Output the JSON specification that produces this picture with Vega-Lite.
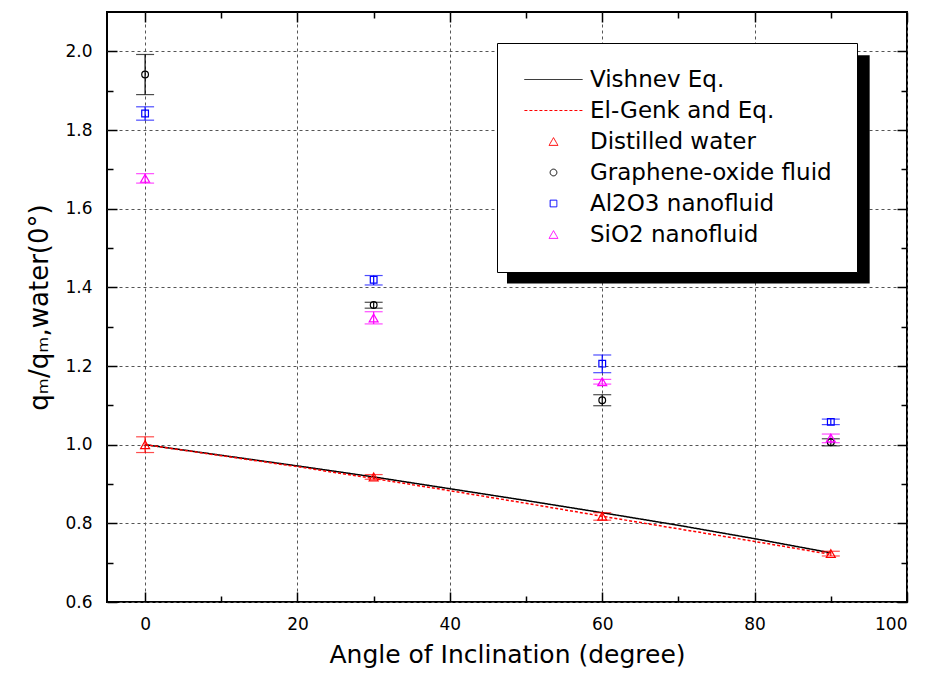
{
  "$schema": "https://vega.github.io/schema/vega-lite/v6.json",
  "width": 800,
  "height": 590,
  "autosize": "none",
  "padding": {"left": 107, "top": 12, "right": 27, "bottom": 80},
  "background": "white",
  "config": {
    "view": {"stroke": "black", "strokeWidth": 2},
    "font": "DejaVu Sans",
    "axis": {
      "labelFont": "DejaVu Sans",
      "titleFont": "DejaVu Sans",
      "labelColor": "black",
      "titleColor": "black",
      "labelFontSize": 17,
      "titleFontWeight": "normal",
      "domain": false,
      "tickColor": "black",
      "tickWidth": 1.5,
      "gridColor": "#555555",
      "gridDash": [3, 3],
      "gridWidth": 1
    },
    "legend": {
      "orient": "none",
      "legendX": 390,
      "legendY": 31,
      "fillColor": "white",
      "strokeColor": "black",
      "padding": 25,
      "labelFont": "DejaVu Sans",
      "labelFontSize": 23,
      "labelColor": "black",
      "labelLimit": 400,
      "labelOffset": 25,
      "symbolOffset": 20,
      "rowPadding": 7,
      "symbolStrokeWidth": 1,
      "symbolOpacity": 1,
      "symbolFillColor": "transparent",
      "title": null
    }
  },
  "datasets": {
    "pts": [
      {"series": "Distilled water", "angle": 0, "value": 1.0, "lo": 0.98, "hi": 1.02},
      {"series": "Distilled water", "angle": 30, "value": 0.918, "lo": 0.912, "hi": 0.924},
      {"series": "Distilled water", "angle": 60, "value": 0.818, "lo": 0.808, "hi": 0.827},
      {"series": "Distilled water", "angle": 90, "value": 0.723, "lo": 0.717, "hi": 0.729},
      {"series": "Graphene-oxide fluid", "angle": 0, "value": 1.941, "lo": 1.89, "hi": 1.992},
      {"series": "Graphene-oxide fluid", "angle": 30, "value": 1.355, "lo": 1.347, "hi": 1.362},
      {"series": "Graphene-oxide fluid", "angle": 60, "value": 1.113, "lo": 1.099, "hi": 1.127},
      {"series": "Graphene-oxide fluid", "angle": 90, "value": 1.006, "lo": 0.997, "hi": 1.015},
      {"series": "Al2O3 nanofluid", "angle": 0, "value": 1.842, "lo": 1.825, "hi": 1.859},
      {"series": "Al2O3 nanofluid", "angle": 30, "value": 1.419, "lo": 1.406, "hi": 1.43},
      {"series": "Al2O3 nanofluid", "angle": 60, "value": 1.206, "lo": 1.183, "hi": 1.228},
      {"series": "Al2O3 nanofluid", "angle": 90, "value": 1.058, "lo": 1.051, "hi": 1.065},
      {"series": "SiO2 nanofluid", "angle": 0, "value": 1.677, "lo": 1.665, "hi": 1.689},
      {"series": "SiO2 nanofluid", "angle": 30, "value": 1.322, "lo": 1.307, "hi": 1.338},
      {"series": "SiO2 nanofluid", "angle": 60, "value": 1.16, "lo": 1.154, "hi": 1.166},
      {"series": "SiO2 nanofluid", "angle": 90, "value": 1.017, "lo": 1.005, "hi": 1.027}
    ],
    "lines": [
      {"series": "Vishnev Eq.", "angle": 0, "value": 1.0},
      {"series": "Vishnev Eq.", "angle": 10, "value": 0.973},
      {"series": "Vishnev Eq.", "angle": 20, "value": 0.946},
      {"series": "Vishnev Eq.", "angle": 30, "value": 0.918},
      {"series": "Vishnev Eq.", "angle": 40, "value": 0.888},
      {"series": "Vishnev Eq.", "angle": 50, "value": 0.858},
      {"series": "Vishnev Eq.", "angle": 60, "value": 0.827},
      {"series": "Vishnev Eq.", "angle": 70, "value": 0.795},
      {"series": "Vishnev Eq.", "angle": 80, "value": 0.761},
      {"series": "Vishnev Eq.", "angle": 90, "value": 0.725},
      {"series": "El-Genk and Eq.", "angle": 0, "value": 1.0},
      {"series": "El-Genk and Eq.", "angle": 10, "value": 0.972},
      {"series": "El-Genk and Eq.", "angle": 20, "value": 0.944},
      {"series": "El-Genk and Eq.", "angle": 30, "value": 0.914},
      {"series": "El-Genk and Eq.", "angle": 40, "value": 0.883},
      {"series": "El-Genk and Eq.", "angle": 50, "value": 0.851},
      {"series": "El-Genk and Eq.", "angle": 60, "value": 0.818},
      {"series": "El-Genk and Eq.", "angle": 70, "value": 0.786},
      {"series": "El-Genk and Eq.", "angle": 80, "value": 0.754},
      {"series": "El-Genk and Eq.", "angle": 90, "value": 0.721}
    ]
  },
  "resolve": {"axis": {"x": "independent", "y": "independent"}},
  "layer": [
    {
      "data": {"values": [{}]},
      "mark": {"type": "rect", "color": "black"},
      "encoding": {
        "x": {"datum": 47.5, "type": "quantitative", "scale": {"domain": [-5, 100], "nice": false, "zero": false},
          "axis": {"orient": "bottom", "title": "Angle of Inclination (degree)", "titleFontSize": 25, "titlePadding": 10,
            "grid": true,
            "values": [0, 10, 20, 30, 40, 50, 60, 70, 80, 90, 100],
            "labelExpr": "datum.value % 20 == 0 ? datum.label : ''",
            "labelPadding": 24,
            "tickSize": {"condition": {"test": "datum.value % 20 == 0", "value": -10}, "value": -6},
            "gridOpacity": {"condition": {"test": "datum.value % 20 == 0", "value": 1}, "value": 0}}},
        "x2": {"datum": 95.1},
        "y": {"datum": 1.99, "type": "quantitative", "scale": {"domain": [0.6, 2.1], "nice": false, "zero": false},
          "axis": {"orient": "left", "title": "qₘ/qₘ,water(0°)", "titleFontSize": 26, "titlePadding": 12,
            "grid": true,
            "values": [0.6, 0.7, 0.8, 0.9, 1.0, 1.1, 1.2, 1.3, 1.4, 1.5, 1.6, 1.7, 1.8, 1.9, 2.0],
            "labelExpr": "round(datum.value*10) % 2 == 0 ? format(datum.value, '.1f') : ''",
            "labelPadding": 25,
            "tickSize": {"condition": {"test": "round(datum.value*10) % 2 == 0", "value": -10}, "value": -6},
            "gridOpacity": {"condition": {"test": "round(datum.value*10) % 2 == 0", "value": 1}, "value": 0}}},
        "y2": {"datum": 1.41}
      }
    },
    {
      "data": {"name": "lines"},
      "mark": {"type": "line", "strokeWidth": 1.5},
      "encoding": {
        "x": {"field": "angle", "type": "quantitative",
          "axis": {"orient": "top", "title": null, "labels": false, "grid": false,
            "values": [0, 10, 20, 30, 40, 50, 60, 70, 80, 90, 100],
            "tickSize": {"condition": {"test": "datum.value % 20 == 0", "value": -10}, "value": -6}}},
        "y": {"field": "value", "type": "quantitative",
          "axis": {"orient": "right", "title": null, "labels": false, "grid": false,
            "values": [0.6, 0.7, 0.8, 0.9, 1.0, 1.1, 1.2, 1.3, 1.4, 1.5, 1.6, 1.7, 1.8, 1.9, 2.0],
            "tickSize": {"condition": {"test": "round(datum.value*10) % 2 == 0", "value": -10}, "value": -6}}},
        "color": {"field": "series", "type": "nominal",
          "scale": {"domain": ["Vishnev Eq.", "El-Genk and Eq.", "Distilled water", "Graphene-oxide fluid", "Al2O3 nanofluid", "SiO2 nanofluid"],
            "range": ["#000000", "#ff0000", "#ff0000", "#000000", "#0000ff", "#ff00ff"]}},
        "strokeDash": {"field": "series", "type": "nominal",
          "scale": {"domain": ["Vishnev Eq.", "El-Genk and Eq.", "Distilled water", "Graphene-oxide fluid", "Al2O3 nanofluid", "SiO2 nanofluid"],
            "range": [[1, 0], [3, 2], [1, 0], [1, 0], [1, 0], [1, 0]]}}
      }
    },
    {
      "data": {"name": "pts"},
      "mark": {"type": "rule", "strokeWidth": 1.2},
      "encoding": {
        "x": {"field": "angle", "type": "quantitative", "axis": null},
        "y": {"field": "lo", "type": "quantitative", "axis": null},
        "y2": {"field": "hi"},
        "stroke": {"field": "series", "type": "nominal", "legend": null,
          "scale": {"domain": ["Distilled water", "Graphene-oxide fluid", "Al2O3 nanofluid", "SiO2 nanofluid"],
            "range": ["#ff0000", "#000000", "#0000ff", "#ff00ff"]}}
      }
    },
    {
      "data": {"name": "pts"},
      "mark": {"type": "tick", "orient": "horizontal", "size": 18, "thickness": 1.2},
      "encoding": {
        "x": {"field": "angle", "type": "quantitative", "axis": null},
        "y": {"field": "lo", "type": "quantitative", "axis": null},
        "fill": {"field": "series", "type": "nominal", "legend": null,
          "scale": {"domain": ["Distilled water", "Graphene-oxide fluid", "Al2O3 nanofluid", "SiO2 nanofluid"],
            "range": ["#ff0000", "#000000", "#0000ff", "#ff00ff"]}}
      }
    },
    {
      "data": {"name": "pts"},
      "mark": {"type": "tick", "orient": "horizontal", "size": 18, "thickness": 1.2},
      "encoding": {
        "x": {"field": "angle", "type": "quantitative", "axis": null},
        "y": {"field": "hi", "type": "quantitative", "axis": null},
        "fill": {"field": "series", "type": "nominal", "legend": null}
      }
    },
    {
      "data": {"name": "pts"},
      "mark": {"type": "point", "filled": false, "strokeWidth": 1.2, "opacity": 1},
      "encoding": {
        "x": {"field": "angle", "type": "quantitative", "axis": null},
        "y": {"field": "value", "type": "quantitative", "axis": null},
        "color": {"field": "series", "type": "nominal",
          "legend": {"encode": {"symbols": {"update": {"fill": {"value": "transparent"}}}}}},
        "shape": {"field": "series", "type": "nominal",
          "scale": {"domain": ["Vishnev Eq.", "El-Genk and Eq.", "Distilled water", "Graphene-oxide fluid", "Al2O3 nanofluid", "SiO2 nanofluid"],
            "range": ["M-6,0H6", "M-6,0H6", "triangle-up", "circle", "square", "triangle-up"]}},
        "size": {"field": "series", "type": "nominal",
          "scale": {"type": "ordinal", "domain": ["Vishnev Eq.", "El-Genk and Eq.", "Distilled water", "Graphene-oxide fluid", "Al2O3 nanofluid", "SiO2 nanofluid"],
            "range": [94, 94, 80, 45, 45, 80]}}
      }
    }
  ]
}
